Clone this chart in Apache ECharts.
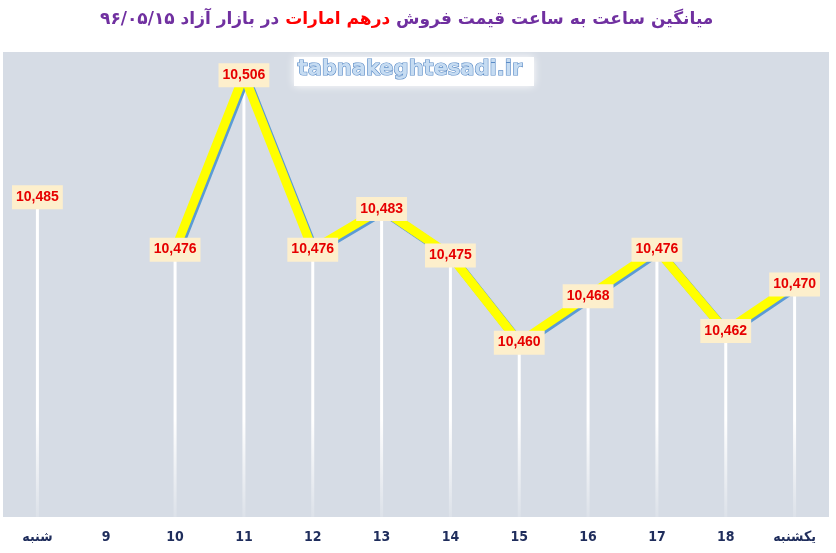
<!DOCTYPE html>
<html>
<head>
<meta charset="utf-8">
<script src="https://cdn.jsdelivr.net/npm/echarts@6/dist/echarts.min.js"></script>
<style>
html, body { margin: 0; padding: 0; background: #ffffff; }
#chart { width: 836px; height: 553px; }
</style>
</head>
<body>
<div id="chart"></div>
<script>
// ============================= data ===============================
const categories = ['شنبه', '9', '10', '11', '12', '13', '14', '15', '16', '17', '18', 'یکشنبه'];
const prices = [10485, '-', 10476, 10506, 10476, 10483, 10475, 10460, 10468, 10476, 10462, 10470];

const titleParts = ['۹۶/۰۵/۱۵', 'در بازار آزاد', 'درهم امارات', 'میانگین ساعت به ساعت قیمت فروش'];

// ============================= option ===============================
let option = {
    backgroundColor: '#ffffff',
    animation: false,
    title: {
        left: 95,
        top: 6,
        text: '{p|' + titleParts[0] + '}{p| }{p|' + titleParts[1] + '}{p| }{r|' + titleParts[2] + '}{p| }{p|' + titleParts[3] + '}',
        textStyle: {
            rich: {
                p: { color: '#7030a0', fontSize: 17, fontWeight: 'bold', fontFamily: 'DejaVu Sans' },
                r: { color: '#ff0000', fontSize: 17, fontWeight: 'bold', fontFamily: 'DejaVu Sans' }
            }
        }
    },
    grid: {
        left: 3,
        right: 7,
        top: 52,
        bottom: 36,
        show: true,
        backgroundColor: '#d6dce5',
        borderWidth: 0
    },
    xAxis: {
        type: 'category',
        data: categories,
        boundaryGap: true,
        axisLine: { show: false },
        axisTick: { show: false },
        axisLabel: {
            margin: 13,
            color: '#1f2d5c',
            fontWeight: 'bold',
            fontSize: 14,
            fontFamily: 'Liberation Sans Narrow, DejaVu Sans Condensed, sans-serif'
        }
    },
    yAxis: {
        type: 'value',
        min: 10430,
        max: 10510,
        show: false,
        splitLine: { show: false }
    },
    series: [
        {
            // drop lines
            type: 'bar',
            data: prices,
            barWidth: 3,
            z: 1,
            silent: true,
            itemStyle: {
                color: {
                    type: 'linear', x: 0, y: 420, x2: 0, y2: 517, global: true,
                    colorStops: [
                        { offset: 0, color: 'rgba(255,255,255,1)' },
                        { offset: 1, color: 'rgba(255,255,255,0.15)' }
                    ]
                }
            }
        },
        {
            type: 'line',
            data: prices,
            z: 3,
            symbol: 'circle',
            symbolSize: 2,
            showAllSymbol: true,
            itemStyle: { color: '#ffff00' },
            lineStyle: {
                color: '#ffff00',
                width: 9,
                shadowColor: '#5b9bd5',
                shadowOffsetX: 2,
                shadowOffsetY: 2,
                shadowBlur: 0
            },
            label: {
                show: true,
                position: 'inside',
                formatter: p => p.value.toLocaleString('en-US'),
                color: '#e60000',
                fontWeight: 'bold',
                fontSize: 14,
                fontFamily: 'Liberation Sans, Arial, sans-serif',
                backgroundColor: '#fdefcc',
                padding: [5, 4, 5, 4]
            }
        }
    ],
    graphic: [
        {
            type: 'rect',
            left: 294,
            top: 57,
            shape: { width: 240, height: 29 },
            style: { fill: '#ffffff', shadowColor: '#ffffff', shadowBlur: 8 },
            z: 10
        },
        {
            type: 'text',
            left: 297,
            top: 58,
            style: {
                text: 'tabnakeghtesadi.ir',
                fontSize: 21,
                fontWeight: 'bold',
                fontFamily: 'DejaVu Sans',
                fill: '#c6dcf2',
                stroke: '#5a8bc6',
                lineWidth: 1.2
            },
            z: 11
        }
    ]
};

// ============================= render ===============================
echarts.init(document.getElementById('chart')).setOption(option);
</script>
</body>
</html>
